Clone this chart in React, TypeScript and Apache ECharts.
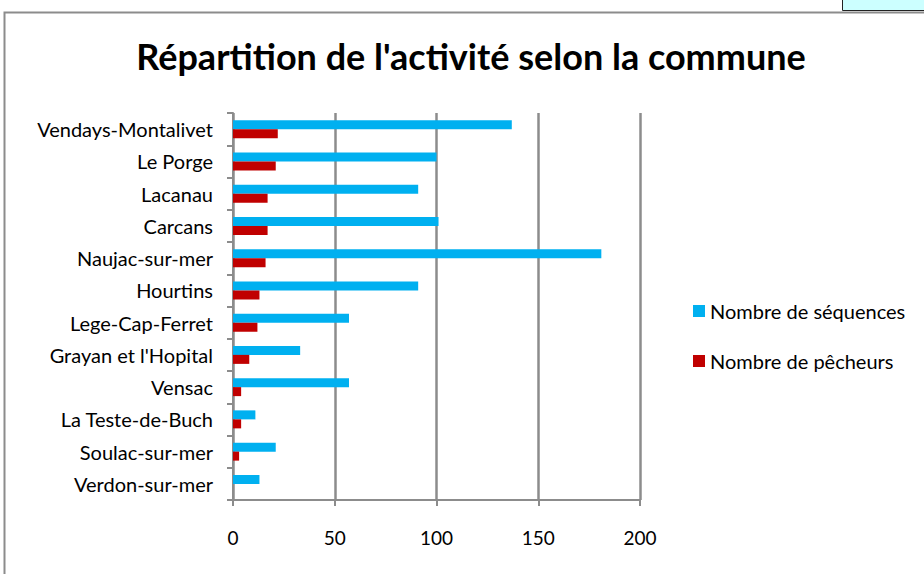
import React, { useEffect, useRef } from "react";
import * as echarts from "echarts";

const categories = [
  "Verdon-sur-mer",
  "Soulac-sur-mer",
  "La Teste-de-Buch",
  "Vensac",
  "Grayan et l'Hopital",
  "Lege-Cap-Ferret",
  "Hourtins",
  "Naujac-sur-mer",
  "Carcans",
  "Lacanau",
  "Le Porge",
  "Vendays-Montalivet",
];
const sequences = [13, 21, 11, 57, 33, 57, 91, 181, 101, 91, 100, 137];
const pecheurs = [0, 3, 4, 4, 8, 12, 13, 16, 17, 17, 21, 22];
const xTicks = [0, 50, 100, 150, 200];
const titleText = "Répartition de l'activité selon la commune";
const seriesNames = ["Nombre de séquences", "Nombre de pêcheurs"];

const FONT = "Lato";
const GREY = "#8c8c8c";

export default function App() {
  const ref = useRef<HTMLDivElement>(null);
  useEffect(() => {
    document.body.style.margin = "0";
    const chart = echarts.init(ref.current!, null, { renderer: "svg" });
    chart.setOption({
      animation: false,
      backgroundColor: "#ffffff",
      title: {
        text: titleText,
        left: 471,
        textAlign: "center",
        top: 38,
        padding: 0,
        textStyle: { fontFamily: FONT, fontWeight: "bold", fontSize: 36, color: "#000" },
      },
      legend: {
        orient: "vertical",
        left: 693,
        top: 301,
        padding: 0,
        itemWidth: 12,
        itemHeight: 12,
        itemGap: 30,
        icon: "rect",
        data: seriesNames,
        textStyle: { fontFamily: FONT, fontSize: 20, color: "#000", padding: [0, 0, 0, 0] },
      },
      grid: { left: 233, top: 113, width: 407, height: 387, containLabel: false },
      xAxis: {
        type: "value",
        min: xTicks[0],
        max: xTicks[xTicks.length - 1],
        interval: 50,
        axisLine: { show: true, lineStyle: { color: GREY, width: 2 } },
        axisTick: { show: true, length: 6, lineStyle: { color: GREY, width: 2 } },
        splitLine: { show: true, lineStyle: { color: GREY, width: 2.5 } },
        axisLabel: { fontFamily: FONT, fontSize: 19, color: "#000", margin: 28 },
      },
      yAxis: {
        type: "category",
        data: categories,
        axisLine: { show: true, lineStyle: { color: GREY, width: 2 } },
        axisTick: { show: true, length: 6, lineStyle: { color: GREY, width: 2 } },
        axisLabel: { fontFamily: FONT, fontSize: 20, color: "#000", margin: 20 },
      },
      series: [
        {
          name: seriesNames[0],
          type: "bar",
          data: sequences,
          barWidth: 9,
          barGap: "0%",
          itemStyle: { color: "#00b0f0" },
        },
        {
          name: seriesNames[1],
          type: "bar",
          data: pecheurs,
          barWidth: 9,
          barGap: "0%",
          itemStyle: { color: "#c00000" },
        },
      ],
      graphic: [
        {
          type: "rect",
          shape: { x: 4.5, y: 12.5, width: 1000, height: 700 },
          style: { fill: "none", stroke: GREY, lineWidth: 2 },
          silent: true,
        },
        {
          type: "rect",
          shape: { x: 842.5, y: -2, width: 100, height: 12.5 },
          style: { fill: "#ccffff", stroke: "#222", lineWidth: 1 },
          silent: true,
        },
      ],
    });
    return () => chart.dispose();
  }, []);
  return <div ref={ref} style={{ position: "fixed", left: 0, top: 0, width: 924, height: 574 }} />;
}
